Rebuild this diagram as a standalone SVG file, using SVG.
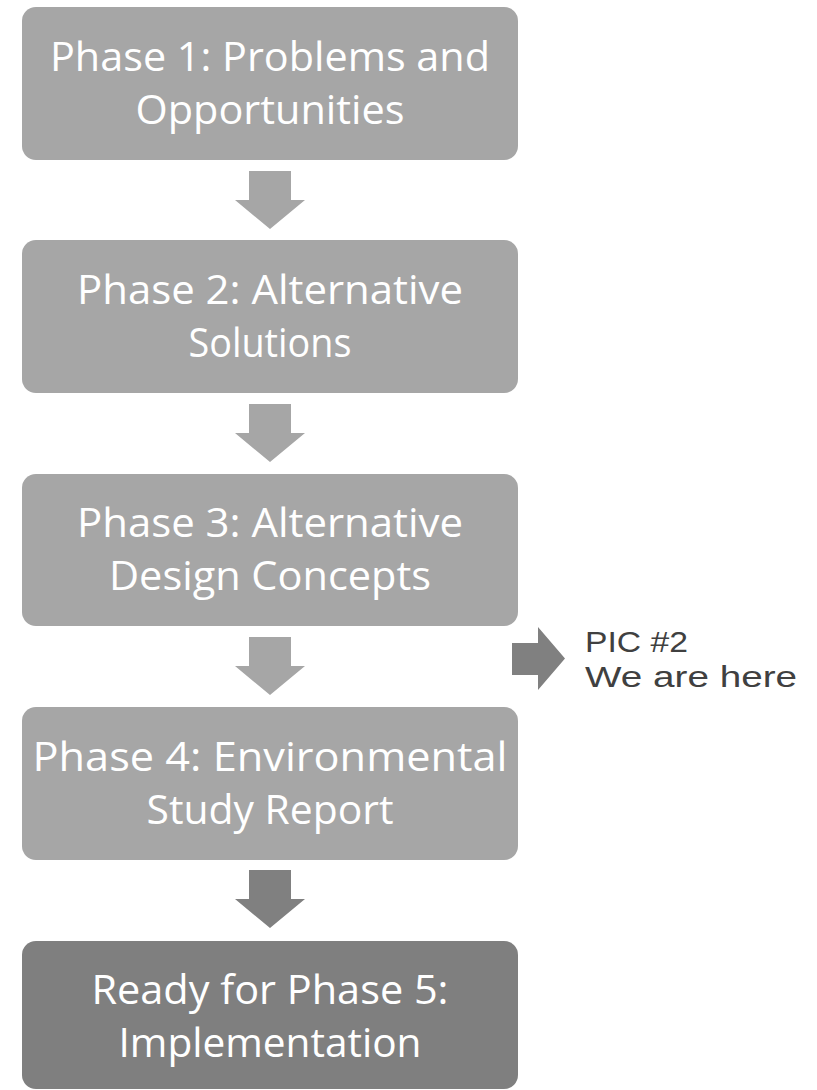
<svg xmlns="http://www.w3.org/2000/svg" width="817" height="1090" viewBox="0 0 817 1090">
<style>
.box{fill:#a6a6a6}
.box5{fill:#7f7f7f}
.arr{fill:#a6a6a6}
.arrd{fill:#808080}
.t{font-family:"Open Sans","Liberation Sans",sans-serif;font-size:40px;fill:#ffffff;text-anchor:middle}
.s{font-family:"Liberation Sans","Open Sans",sans-serif;font-size:30px;fill:#404040}
</style>
<rect width="817" height="1090" fill="#ffffff"/>
<g id="connectors">
<path class="arr" d="M249,171 H291 V200 H305 L270,229 L235,200 H249 Z"/>
<path class="arr" d="M249,404 H291 V433 H305 L270,462 L235,433 H249 Z"/>
<path class="arr" d="M249,637 H291 V666 H305 L270,695 L235,666 H249 Z"/>
<path class="arrd" d="M249,870 H291 V899 H305 L270,928 L235,899 H249 Z"/>
<path class="arrd" d="M512,643 H538 V627 L565,658.5 L538,690 V675 H512 Z"/>
</g>
<g id="phase1">
<rect class="box" x="22" y="7" width="496" height="153" rx="14"/>
<text class="t" x="270" y="71" textLength="440" lengthAdjust="spacingAndGlyphs">Phase 1: Problems and</text>
<text class="t" x="270" y="124" textLength="269" lengthAdjust="spacingAndGlyphs">Opportunities</text>
</g>
<g id="phase2">
<rect class="box" x="22" y="240" width="496" height="153" rx="14"/>
<text class="t" x="270" y="304" textLength="386" lengthAdjust="spacingAndGlyphs">Phase 2: Alternative</text>
<text class="t" x="270" y="357" textLength="163" lengthAdjust="spacingAndGlyphs">Solutions</text>
</g>
<g id="phase3">
<rect class="box" x="22" y="474" width="496" height="152" rx="14"/>
<text class="t" x="270" y="537" textLength="386" lengthAdjust="spacingAndGlyphs">Phase 3: Alternative</text>
<text class="t" x="270" y="590" textLength="322" lengthAdjust="spacingAndGlyphs">Design Concepts</text>
</g>
<g id="phase4">
<rect class="box" x="22" y="707" width="496" height="153" rx="14"/>
<text class="t" x="270" y="771" textLength="475" lengthAdjust="spacingAndGlyphs">Phase 4: Environmental</text>
<text class="t" x="270" y="824" textLength="247" lengthAdjust="spacingAndGlyphs">Study Report</text>
</g>
<g id="phase5">
<rect class="box5" x="22" y="941" width="496" height="148" rx="14"/>
<text class="t" x="270" y="1004" textLength="357" lengthAdjust="spacingAndGlyphs">Ready for Phase 5:</text>
<text class="t" x="270" y="1057" textLength="303" lengthAdjust="spacingAndGlyphs">Implementation</text>
</g>
<g id="note">
<text class="s" x="585" y="652" textLength="103" lengthAdjust="spacingAndGlyphs">PIC #2</text>
<text class="s" x="585" y="687" textLength="212" lengthAdjust="spacingAndGlyphs">We are here</text>
</g>
</svg>
